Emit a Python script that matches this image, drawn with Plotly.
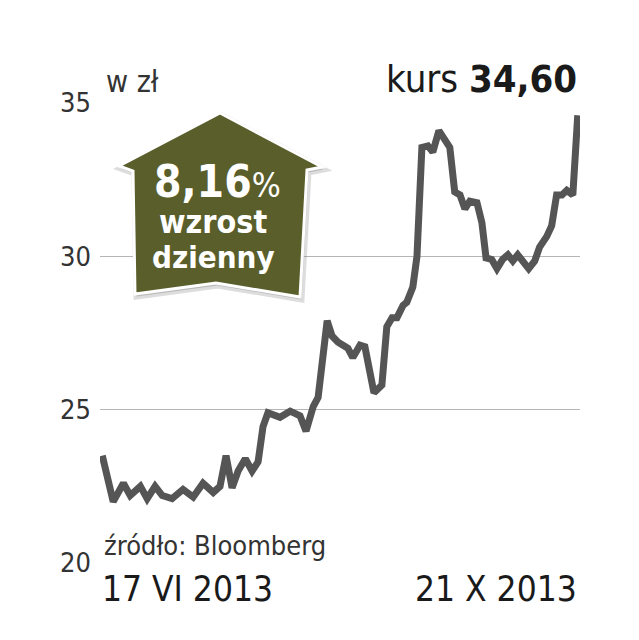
import plotly.graph_objects as go

# Data: days since 17 VI 2013, closing price (zł)
days = [0, 2.9, 5.6, 7.4, 10.1, 11.9, 14.0, 15.9, 18.5, 21.4, 24.1, 26.7, 29.4, 31.2,
        32.8, 34.4, 36.0, 37.9, 39.7, 41.3, 42.6, 43.9, 47.1, 49.8, 52.4, 54.0, 55.9,
        57.2, 59.6, 60.9, 62.5, 65.1, 66.4, 68.3, 69.6, 72.0, 74.1, 75.4, 76.8, 78.1,
        79.7, 80.7, 82.3, 83.4, 84.7, 86.3, 87.6, 89.2, 90.8, 92.1, 93.4, 94.8, 96.1,
        97.4, 99.3, 100.6, 101.7, 103.2, 104.6, 106.1, 107.5, 108.8, 110.1, 111.4,
        113.0, 114.6, 115.9, 117.8, 119.1, 120.4, 121.8, 123.1, 124.7, 126.0]
prices = [23.5, 22.0, 22.6, 22.2, 22.5, 22.1, 22.5, 22.2, 22.1, 22.4, 22.15, 22.6, 22.3,
          22.5, 23.5, 22.45, 23.0, 23.4, 23.0, 23.3, 24.45, 24.9, 24.75, 24.95, 24.8,
          24.3, 25.1, 25.4, 27.9, 27.4, 27.2, 27.0, 26.7, 27.1, 27.05, 25.55, 25.8, 27.7,
          28.0, 28.0, 28.4, 28.5, 29.0, 30.0, 33.55, 33.6, 33.4, 34.1, 33.8, 33.55, 32.1,
          32.0, 31.55, 31.8, 31.75, 31.1, 29.95, 29.9, 29.6, 29.9, 30.05, 29.85, 30.05,
          29.85, 29.6, 29.85, 30.3, 30.65, 31.0, 32.0, 32.0, 32.15, 32.0, 34.6]
y_ticks = [20, 25, 30, 35]
date_start = "17 VI 2013"
date_end = "21 X 2013"
last_price = "34,60"
daily_change = "8,16"

FONT = "Liberation Sans Narrow, DejaVu Sans Condensed, Roboto, sans-serif"
# page has an 8px body margin; page coordinates below are in window pixels
OFF = 8
W, H = 639 - OFF, 640 - OFF
PL, PR, PT, PB = 100, 580, 103, 563   # plot area in window pixels
L, R, T, B = PL - OFF, W - (PR - OFF), PT - OFF, H - (PB - OFF)


def px(x):
    return (x - PL) / (PR - PL)


def py(y):
    return (PB - y) / (PB - PT)


fig = go.Figure()
fig.add_trace(go.Scatter(x=days, y=prices, mode="lines",
                         line=dict(color="#555555", width=7, shape="linear"),
                         hoverinfo="skip"))

# House-shaped arrow badge
pts = [(220, 113), (322, 167), (307, 170), (300, 297), (216, 283), (135, 294),
       (133, 171), (119, 166)]


def path(points, dx=0, dy=0):
    return "M " + " L ".join(f"{px(x + dx)},{py(y + dy)}" for x, y in points) + " Z"


shapes = [
    dict(type="path", xref="paper", yref="paper", path=path(pts, 1.5, 2.5),
         fillcolor="rgba(120,120,120,0.35)", line=dict(color="rgba(120,120,120,0.25)", width=6),
         layer="above"),
    dict(type="path", xref="paper", yref="paper", path=path(pts),
         fillcolor="#5a5e2b", line=dict(color="white", width=3), layer="above"),
]

annotations = [
    dict(x=px(104), y=py(81), xref="paper", yref="paper", text="w zł", showarrow=False,
         xanchor="left", yanchor="middle", font=dict(family=FONT, size=30, color="#333")),
    dict(x=px(579), y=py(79), xref="paper", yref="paper",
         text=f"kurs <b>{last_price}</b>", showarrow=False,
         xanchor="right", yanchor="middle", font=dict(family=FONT, size=38, color="#1a1a1a")),
    dict(x=px(217), y=py(181), xref="paper", yref="paper",
         text=f"<b>{daily_change}</b><span style='font-size:34px'>%</span>", showarrow=False,
         xanchor="center", yanchor="middle", font=dict(family=FONT, size=44, color="white")),
    dict(x=px(213), y=py(222), xref="paper", yref="paper", text="<b>wzrost</b>",
         showarrow=False, xanchor="center", yanchor="middle",
         font=dict(family=FONT, size=32, color="white")),
    dict(x=px(213), y=py(257), xref="paper", yref="paper", text="<b>dzienny</b>",
         showarrow=False, xanchor="center", yanchor="middle",
         font=dict(family=FONT, size=31, color="white")),
    dict(x=px(102), y=py(545), xref="paper", yref="paper", text="źródło: Bloomberg",
         showarrow=False, xanchor="left", yanchor="middle",
         font=dict(family=FONT, size=27, color="#333")),
    dict(x=px(100), y=py(589), xref="paper", yref="paper", text=date_start,
         showarrow=False, xanchor="left", yanchor="middle",
         font=dict(family=FONT, size=35, color="#1a1a1a")),
    dict(x=px(579), y=py(589), xref="paper", yref="paper", text=date_end,
         showarrow=False, xanchor="right", yanchor="middle",
         font=dict(family=FONT, size=35, color="#1a1a1a")),
]

fig.update_layout(
    width=W, height=H,
    margin=dict(l=L, r=R, t=T, b=B),
    paper_bgcolor="white", plot_bgcolor="white",
    showlegend=False,
    shapes=shapes,
    annotations=annotations,
    xaxis=dict(range=[-0.6, 126.6], visible=False, showgrid=False, zeroline=False),
    yaxis=dict(range=[20, 35], tickvals=y_ticks, ticktext=[str(v) for v in y_ticks],
               showgrid=True, gridcolor="#b5b5b5", gridwidth=1, zeroline=False,
               showline=False, ticks="", ticklabelstandoff=8,
               tickfont=dict(family=FONT, size=27, color="#333")),
)

fig.write_html("out.html")
